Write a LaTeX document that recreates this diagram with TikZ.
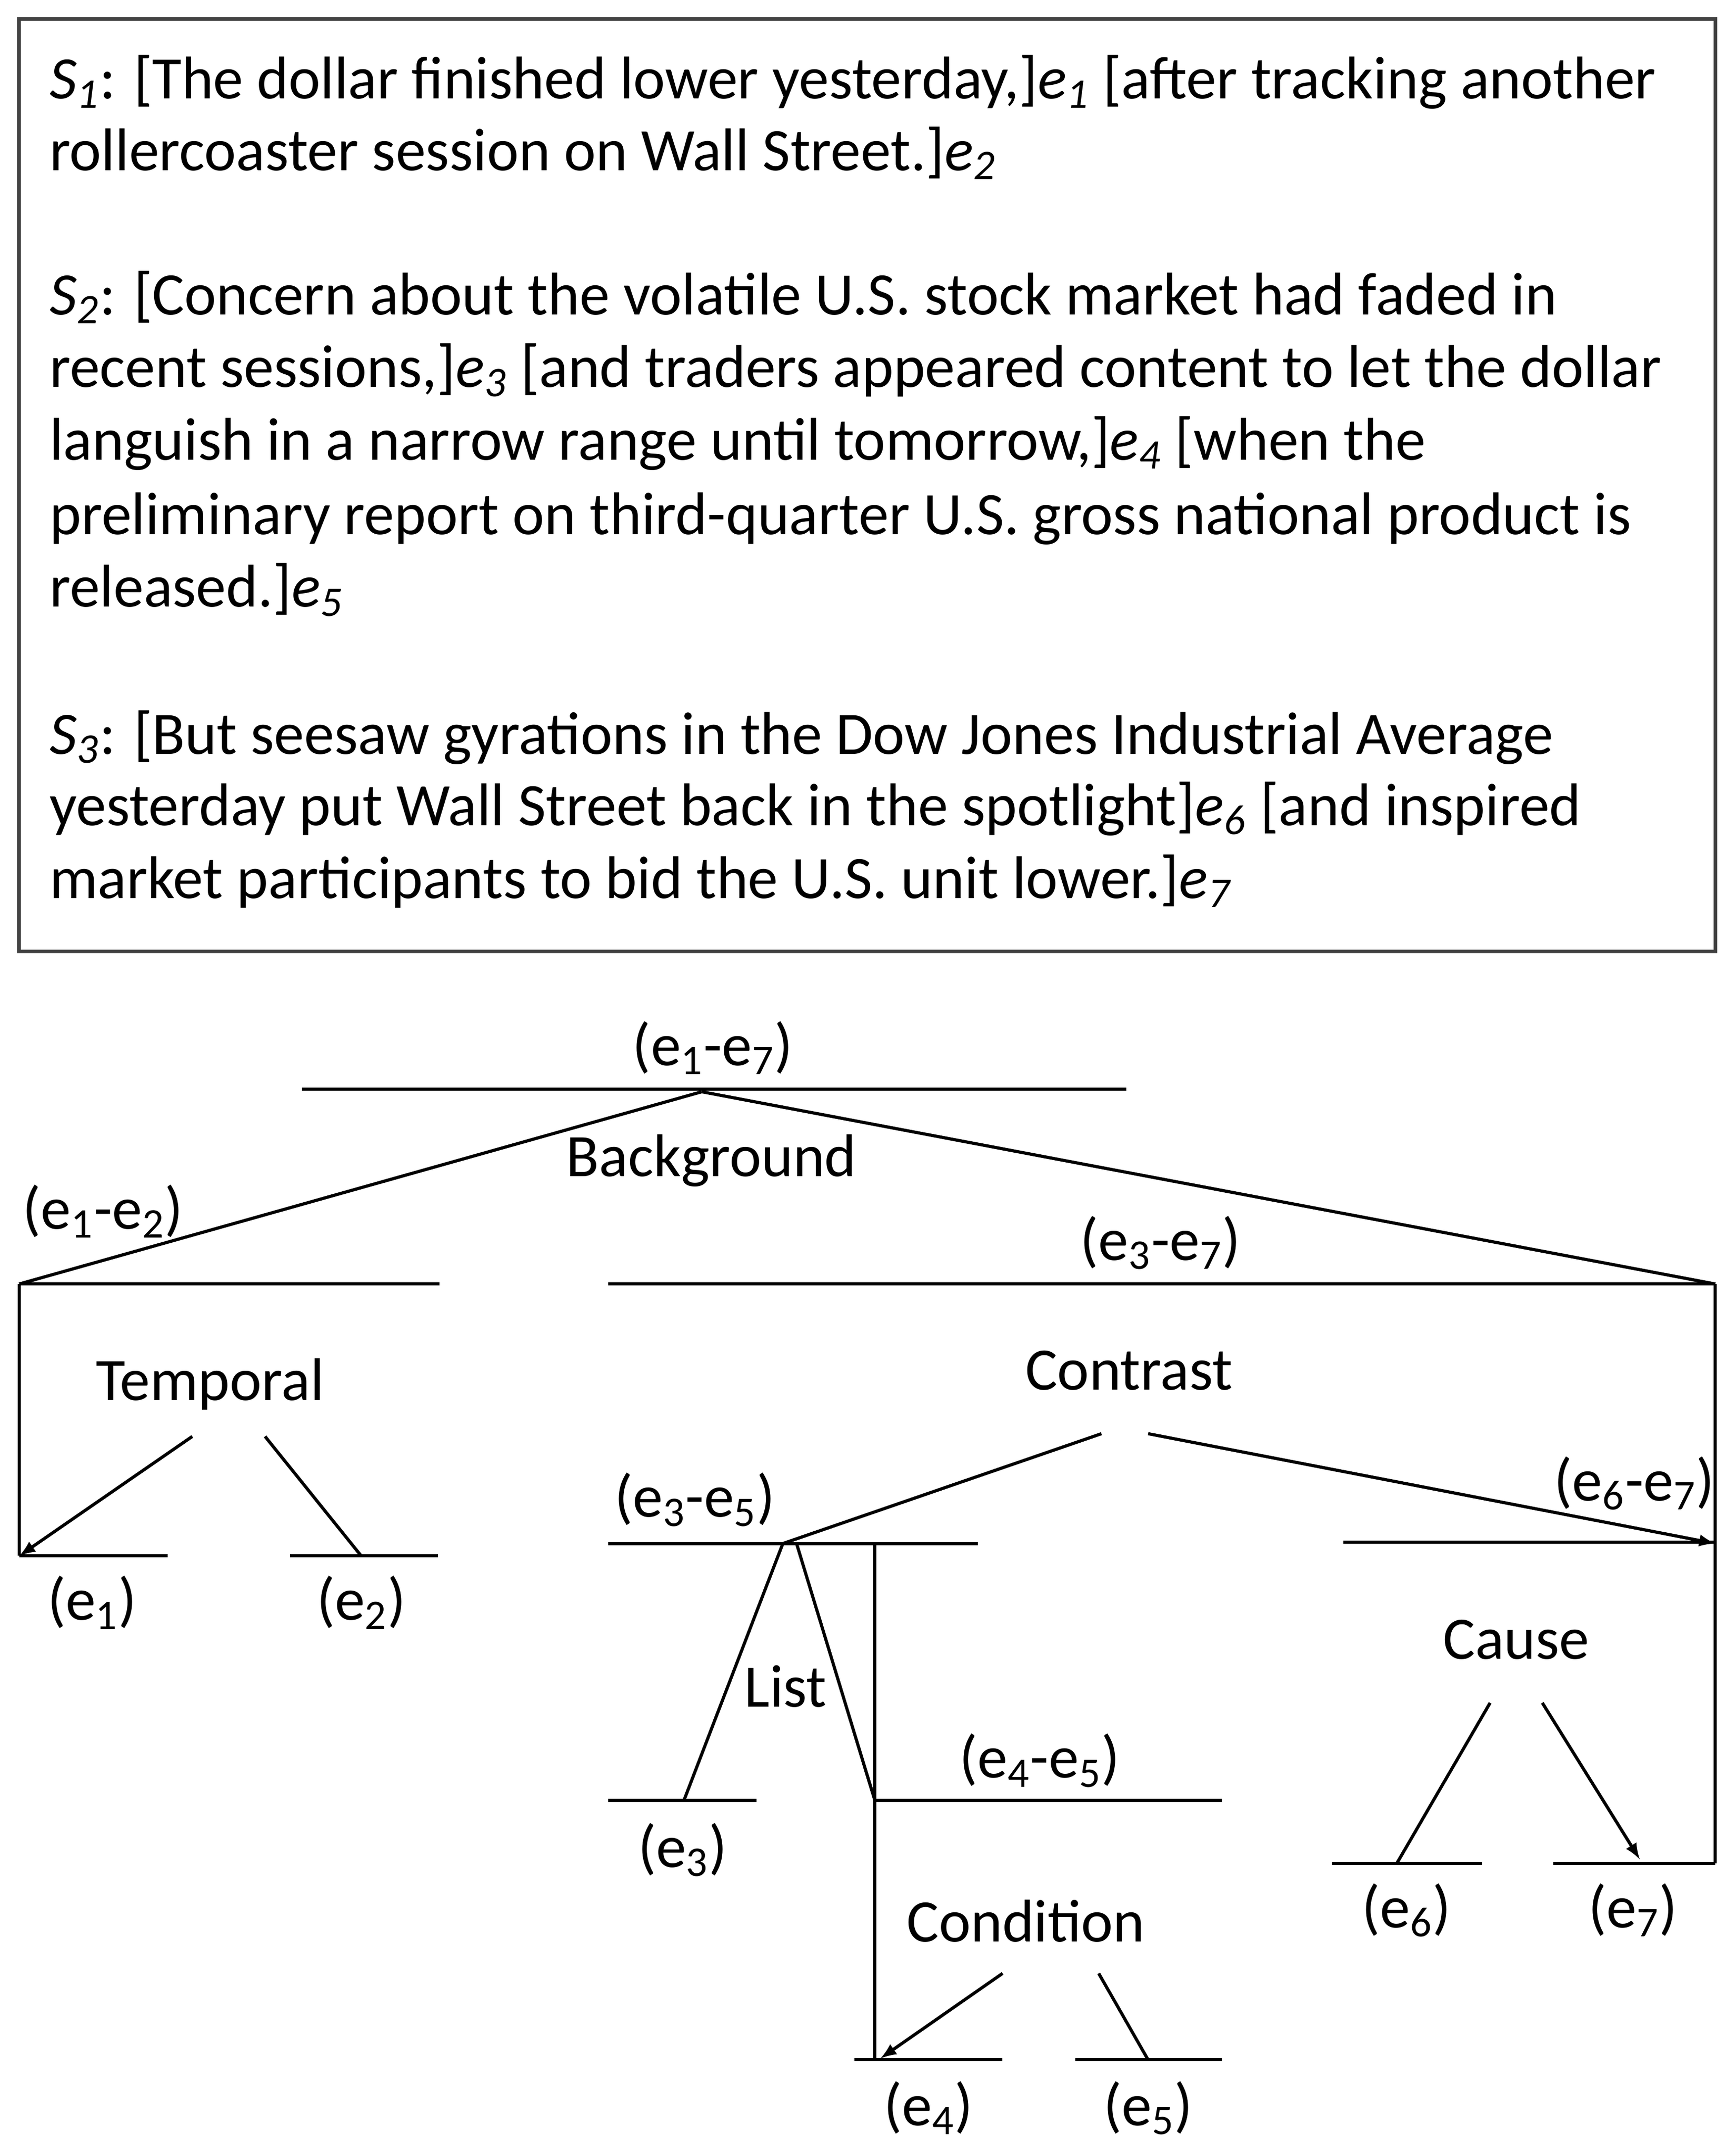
\documentclass[tikz,border=0pt]{standalone}
\usepackage{fontspec}
\setmainfont{Carlito}
\begin{document}
\begin{tikzpicture}[x=0.02cm,y=-0.02cm,line width=1.3pt,
 t/.style={font=\fontsize{25}{31}\selectfont,inner sep=0pt},
 tl/.style={t,anchor=base west},
 ar/.style={-latex}]
\useasboundingbox (0,0) rectangle (1264,1570);
\draw[line width=1.5pt,draw=black!75] (14,14) rectangle (1249,693);
\newcommand{\ee}[1]{\textit{e\textsubscript{#1}}}
\node[tl] (l1) at (35,72) {\textit{S\textsubscript{1}}: [The dollar finished lower yesterday,]\ee1 [after tracking another};
\node[tl] (l2) at (35,124) {rollercoaster session on Wall Street.]\ee2};
\node[tl] (l3) at (35,229) {\textit{S\textsubscript{2}}: [Concern about the volatile U.S. stock market had faded in};
\node[tl] (l4) at (35,282) {recent sessions,]\ee3 [and traders appeared content to let the dollar};
\node[tl] (l5) at (35,335) {languish in a narrow range until tomorrow,]\ee4 [when the};
\node[tl] (l6) at (35,389) {preliminary report on third-quarter U.S. gross national product is};
\node[tl] (l7) at (35,442) {released.]\ee5};
\node[tl] (l8) at (35,549) {\textit{S\textsubscript{3}}: [But seesaw gyrations in the Dow Jones Industrial Average};
\node[tl] (l9) at (35,601) {yesterday put Wall Street back in the spotlight]\ee6 [and inspired};
\node[tl] (l10) at (35,654) {market participants to bid the U.S. unit lower.]\ee7};
% coordinates
\coordinate (r0) at (511,795); \coordinate (L) at (14,935); \coordinate (R) at (1249,935);
\coordinate (Lb) at (14,1133); \coordinate (Rb) at (1249,1357);
\coordinate (ce) at (570,1124); \coordinate (v) at (637,1124); \coordinate (v2) at (637,1311); \coordinate (v3) at (637,1500);
% labels
\node[t] (n17) at (519,763) {(e\textsubscript{1}-e\textsubscript{7})};
\node[t] (bg) at (518,845) {Background};
\node[t] (n12) at (75,882) {(e\textsubscript{1}-e\textsubscript{2})};
\node[t] (n37) at (845,905) {(e\textsubscript{3}-e\textsubscript{7})};
\node[t] (tem) at (153,1008) {Temporal};
\node[t] (n1) at (67,1167) {(e\textsubscript{1})};
\node[t] (n2) at (263,1167) {(e\textsubscript{2})};
\node[t] (con) at (822,998) {Contrast};
\node[t] (n67) at (1190,1080) {(e\textsubscript{6}-e\textsubscript{7})};
\node[t] (n35) at (506,1092) {(e\textsubscript{3}-e\textsubscript{5})};
\node[t] (lis) at (572,1228) {List};
\node[t] (n3) at (497,1347) {(e\textsubscript{3})};
\node[t] (n45) at (757,1282) {(e\textsubscript{4}-e\textsubscript{5})};
\node[t] (cnd) at (747,1399) {Condition};
\node[t] (n4) at (676,1535) {(e\textsubscript{4})};
\node[t] (n5) at (836,1535) {(e\textsubscript{5})};
\node[t] (cau) at (1104,1194) {Cause};
\node[t] (n6) at (1024,1391) {(e\textsubscript{6})};
\node[t] (n7) at (1189,1391) {(e\textsubscript{7})};
% lines
\draw (220,793) -- (820,793);
\draw (r0) -- (L); \draw (r0) -- (R);
\draw (L) -- (320,935); \draw (443,935) -- (R);
\draw (L) -- (Lb); \draw (R) -- (Rb);
\draw[ar] (140,1046) -- (Lb);
\draw (193,1046) -- (263,1133);
\draw (Lb) -- (122,1133); \draw (211,1133) -- (319,1133);
\draw (802,1044) -- (ce);
\draw[ar] (836,1044) -- (1249,1124);
\draw (978,1123) -- (1249,1123);
\draw (443,1124) -- (712,1124);
\draw (ce) -- (498,1311); \draw (580,1124) -- (v2);
\draw (v) -- (v3);
\draw (443,1311) -- (551,1311); \draw (v2) -- (890,1311);
\draw[ar] (730,1437) -- (641,1499);
\draw (800,1437) -- (836,1500);
\draw (622,1500) -- (730,1500); \draw (783,1500) -- (890,1500);
\draw (1085,1240) -- (1017,1357);
\draw[ar] (1123,1240) -- (1194,1354);
\draw (970,1357) -- (1079,1357); \draw (1131,1357) -- (Rb);
\end{tikzpicture}
\end{document}
